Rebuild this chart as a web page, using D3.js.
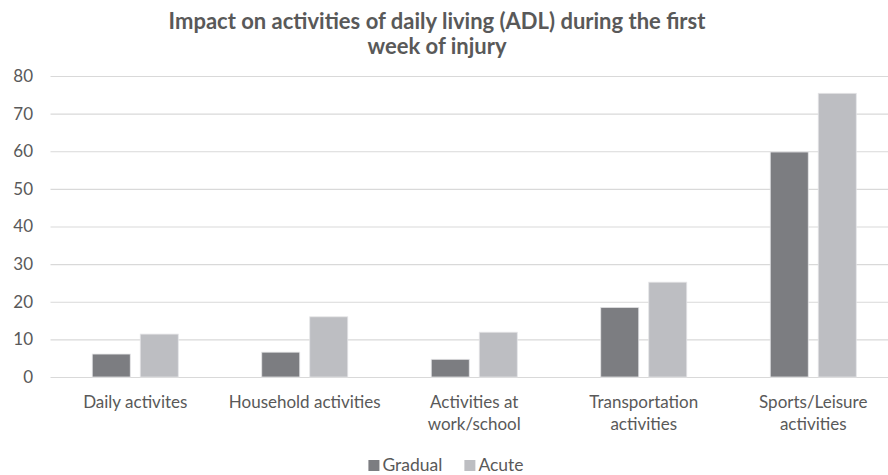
<!DOCTYPE html>
<html>
<head>
<meta charset="utf-8">
<script src="https://cdn.jsdelivr.net/npm/d3@7"></script>
<style>
  body { margin: 0; background: #fff; }
  svg { display: block; font-family: Lato, "Open Sans", sans-serif; }
</style>
</head>
<body>
<svg id="chart" width="888" height="475"></svg>
<script>
// data
var categories = [
  ["Daily activites"],
  ["Household activities"],
  ["Activities at", "work/school"],
  ["Transportation", "activities"],
  ["Sports/Leisure", "activities"]
];
var seriesNames = ["Gradual", "Acute"];
var gradual = [6.1, 6.6, 4.7, 18.5, 59.8];
var acute = [11.4, 16, 11.9, 25.2, 75.4];
var yTicks = [0, 10, 20, 30, 40, 50, 60, 70, 80];
var titleLines = ["Impact on activities of daily living (ADL) during the first", "week of injury"];

var colors = {Gradual: "#7c7d81", Acute: "#bdbec2"};

var svg = d3.select("#chart");
var plotLeft = 50.5, plotRight = 898, plotTop = 76, plotBottom = 377;

var rows = categories.map(function(c, i) {
  return {key: c.join(" "), label: c, values: [gradual[i], acute[i]]};
});

var x0 = d3.scaleBand().domain(rows.map(function(d) { return d.key; }))
  .range([plotLeft, plotRight]).padding(0);
var x1 = d3.scaleBand().domain(seriesNames).paddingInner(10 / 48).paddingOuter(0)
  .range([x0.bandwidth() / 2 - 43, x0.bandwidth() / 2 + 43]);
var y = d3.scaleLinear().domain([0, 80]).range([plotBottom, plotTop]);

// title
svg.append("g").selectAll("text")
  .data(titleLines)
  .enter().append("text")
  .attr("x", 437)
  .attr("y", function(d, i) { return 29 + i * 25; })
  .attr("text-anchor", "middle")
  .attr("font-size", "22px")
  .attr("font-weight", "bold")
  .attr("fill", "#595959")
  .text(function(d) { return d; });

// gridlines + y labels
var yAxis = svg.append("g")
  .attr("transform", "translate(" + plotLeft + ",0)")
  .call(d3.axisLeft(y).tickValues(yTicks).tickSize(-(plotRight - plotLeft)).tickPadding(17.5));
yAxis.select(".domain").remove();
yAxis.selectAll(".tick line").attr("stroke", "#d9d9d9").attr("stroke-width", 1.2);
yAxis.selectAll(".tick text")
  .attr("fill", "#595959")
  .attr("font-size", "17px")
  .attr("font-family", "Lato, sans-serif");

// bars
var groups = svg.append("g").selectAll("g")
  .data(rows)
  .enter().append("g")
  .attr("transform", function(d) { return "translate(" + x0(d.key) + ",0)"; });

groups.selectAll("rect")
  .data(function(d) { return seriesNames.map(function(s, i) { return {name: s, value: d.values[i]}; }); })
  .enter().append("rect")
  .attr("x", function(d) { return x1(d.name); })
  .attr("y", function(d) { return y(d.value); })
  .attr("width", x1.bandwidth())
  .attr("height", function(d) { return plotBottom - y(d.value); })
  .attr("fill", function(d) { return colors[d.name]; })
  .attr("stroke", "#e4e4e6")
  .attr("stroke-width", 0.8);

// x labels
var xLabels = svg.append("g");
rows.forEach(function(d) {
  var cx = x0(d.key) + x0.bandwidth() / 2;
  var t = xLabels.append("text")
    .attr("x", cx)
    .attr("y", 407.5)
    .attr("text-anchor", "middle")
    .attr("font-size", "17px")
    .attr("fill", "#595959");
  d.label.forEach(function(line, i) {
    t.append("tspan")
      .attr("x", cx)
      .attr("dy", i === 0 ? 0 : 22.5)
      .text(line);
  });
});

// legend, centred under the chart
var legend = svg.append("g");
var lx = 0;
seriesNames.forEach(function(s, i) {
  legend.append("rect")
    .attr("x", lx).attr("y", 460)
    .attr("width", 11).attr("height", 11)
    .attr("fill", colors[s]);
  var t = legend.append("text")
    .attr("x", lx + 14).attr("y", 471)
    .attr("font-size", "17.5px")
    .attr("fill", "#595959")
    .text(s);
  lx += 14 + t.node().getComputedTextLength() + 22;
});
var lw = lx - 22;
legend.attr("transform", "translate(" + (446 - lw / 2) + ",0)");
</script>
</body>
</html>
